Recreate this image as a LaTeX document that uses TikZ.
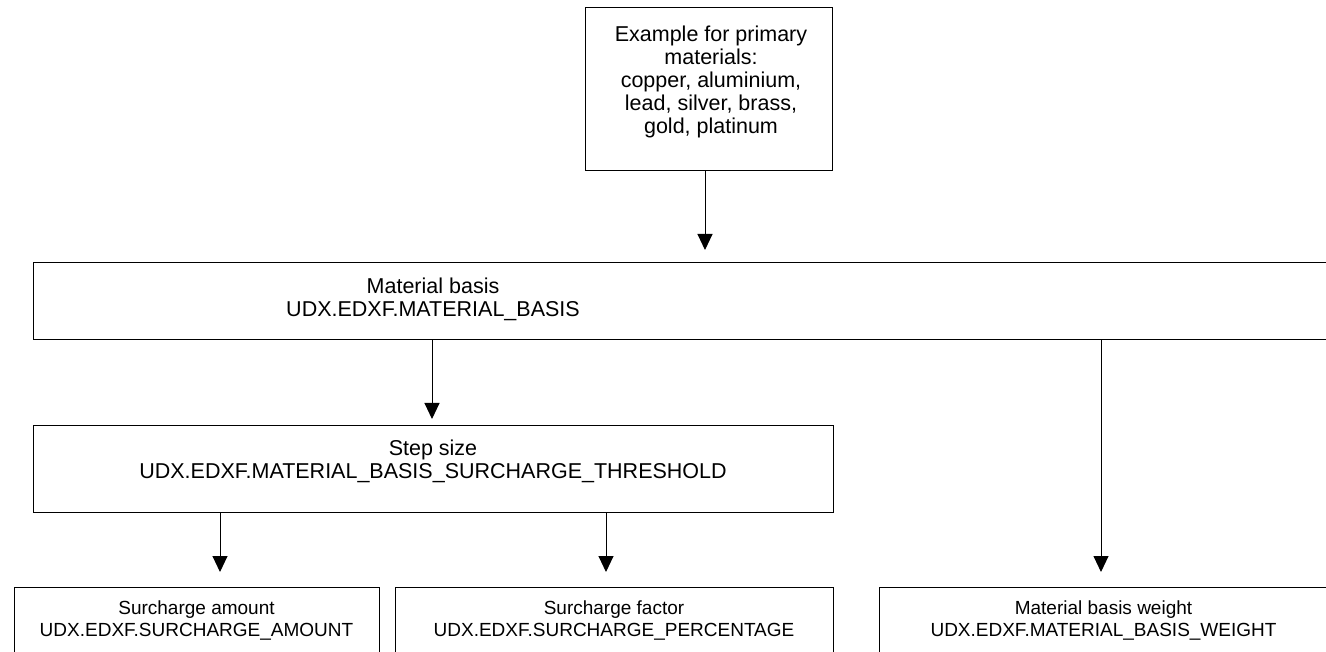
\documentclass[tikz,border=0pt]{standalone}
\usepackage{fontspec}
\setmainfont{Liberation Sans}
\usepackage{tikz}
\usetikzlibrary{arrows.meta}
\usetikzlibrary{positioning}

\begin{document}
\begin{tikzpicture}[x=1pt, y=1pt, >={Triangle[width=15pt,length=16pt]},
    box/.style={draw, line width=1pt, inner sep=0pt, align=center},
    big/.style={align=center, font=\fontsize{21.5}{23}\selectfont},
    small/.style={font=\fontsize{19}{22}\selectfont},
    link/.style={draw, ->, line width=1pt}]
  \useasboundingbox (0,0) rectangle (1326,-652);
  \clip (0,0) rectangle (1326,-652);

  % boxes
  \node[box, minimum width=247pt, minimum height=163pt] (top) at (708.5,-89.5) {};
  \node[big] (toplbl) at (711,-82)
    {Example for primary\\materials:\\copper, aluminium,\\lead, silver, brass,\\gold, platinum};
  \node[box, anchor=north west, minimum width=1320pt, minimum height=77pt] (mat) at (33,-262) {};
  \node[big] (matlbl) at (433,-299) {Material basis\\UDX.EDXF.MATERIAL\_BASIS};
  \node[box, minimum width=800pt, minimum height=87pt] (step) at (433,-468.5) {};
  \node[big] (steplbl) at (433,-461) {Step size\\UDX.EDXF.MATERIAL\_BASIS\_SURCHARGE\_THRESHOLD};
  \node[box, small, minimum width=365pt, minimum height=68pt] (amount) at (196.5,-621)
    {Surcharge amount\\UDX.EDXF.SURCHARGE\_AMOUNT};
  \node[box, small, minimum width=438pt, minimum height=68pt] (factor) at (614,-621)
    {Surcharge factor\\UDX.EDXF.SURCHARGE\_PERCENTAGE};
  \node[box, small, minimum width=449pt, minimum height=68pt] (weight) at (1103.5,-621)
    {Material basis weight\\UDX.EDXF.MATERIAL\_BASIS\_WEIGHT};

  % arrow tips
  \coordinate (t1) at (705,-250);
  \coordinate (t2) at (432,-419);
  \coordinate (t3) at (220,-572);
  \coordinate (t4) at (606,-572);
  \coordinate (t5) at (1101,-572);

  \path[link] (top.south -| t1) -- (t1);
  \path[link] (mat.south -| t2) -- (t2);
  \path[link] (mat.south -| t5) -- (t5);
  \path[link] (step.south -| t3) -- (t3);
  \path[link] (step.south -| t4) -- (t4);
\end{tikzpicture}
\end{document}
